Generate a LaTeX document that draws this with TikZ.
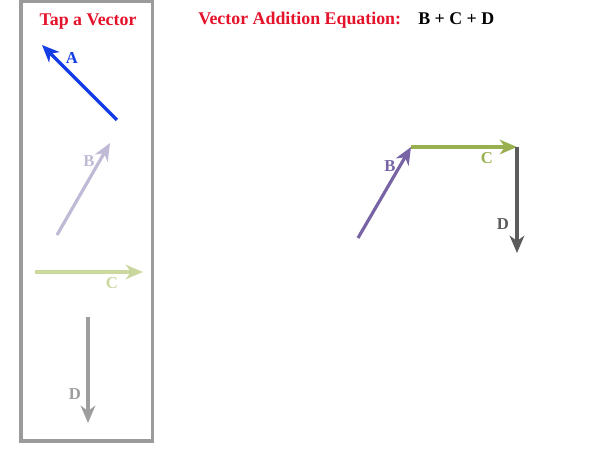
\documentclass[tikz,border=0pt]{standalone}
\usepackage{fontspec}
\setmainfont{Liberation Serif}
\usetikzlibrary{arrows.meta,positioning}

\definecolor{titlered}{RGB}{228,18,42}
\definecolor{boxgray}{RGB}{155,155,155}
\definecolor{vecA}{RGB}{20,62,228}
\definecolor{vecBfade}{RGB}{192,186,214}
\definecolor{vecCfade}{RGB}{202,216,158}
\definecolor{vecDfade}{RGB}{158,158,158}
\definecolor{vecB}{RGB}{120,100,165}
\definecolor{vecC}{RGB}{152,176,80}
\definecolor{vecD}{RGB}{92,92,92}

\begin{document}
\begin{tikzpicture}[x = 0.75pt, y = -0.75pt]

\tikzstyle{vec} = [line width = 2.4pt, -{Stealth[length = 13pt, width = 11pt, inset = 4pt]}]

\tikzstyle{lbl} = [font = \bfseries\fontsize{12.5pt}{12.5pt}\selectfont, inner sep = 0pt]

\tikzstyle{title_txt} = [font = \bfseries\fontsize{13.4pt}{13.4pt}\selectfont, text = titlered, inner sep = 0pt, anchor = base]

\useasboundingbox (0,0) rectangle (597,470);

% palette
\draw[boxgray, line width = 2.6pt] (21,1) rectangle (152.5,441);
\node [title_txt] (tap_txt) at (88,26) {Tap a Vector};

\coordinate (a_tail) at (117,120);
\coordinate (a_tip) at (42,45);
\draw[vec, vecA] (a_tail) -- (a_tip);
\node [lbl, text = vecA] (a_lbl) at (72,58) {A};

\coordinate (b1_tail) at (57,235);
\coordinate (b1_tip) at (110,143);
\draw[vec, vecBfade] (b1_tail) -- (b1_tip);
\node [lbl, text = vecBfade] (b1_lbl) at (89,161) {B};

\coordinate (c1_tail) at (35,272);
\coordinate (c1_tip) at (143,272);
\draw[vec, vecCfade] (c1_tail) -- (c1_tip);
\node [lbl, text = vecCfade] (c1_lbl) at (112,283) {C};

\coordinate (d1_tail) at (88,317);
\coordinate (d1_tip) at (88,423);
\draw[vec, vecDfade] (d1_tail) -- (d1_tip);
\node [lbl, text = vecDfade] (d1_lbl) at (75,394) {D};

% equation
\node [title_txt, anchor = base west] (eq_txt) at (198,25) {Vector Addition Equation:};
\node [title_txt, anchor = base west, text = black] (eq_val) at (418,25) {B + C + D};

% sum
\coordinate (b2_tail) at (358,238);
\coordinate (b2_tip) at (411,147);
\coordinate (c2_tip) at (517,147);
\coordinate (d2_tip) at (517,253);
\draw[vec, vecB] (b2_tail) -- (b2_tip);
\draw[vec, vecC] (b2_tip) -- (c2_tip);
\draw[vec, vecD] (c2_tip) -- (d2_tip);
\node [lbl, text = vecB] (b2_lbl) at (390,166) {B};
\node [lbl, text = vecC] (c2_lbl) at (487,158) {C};
\node [lbl, text = vecD] (d2_lbl) at (503,224) {D};

\end{tikzpicture}
\end{document}
